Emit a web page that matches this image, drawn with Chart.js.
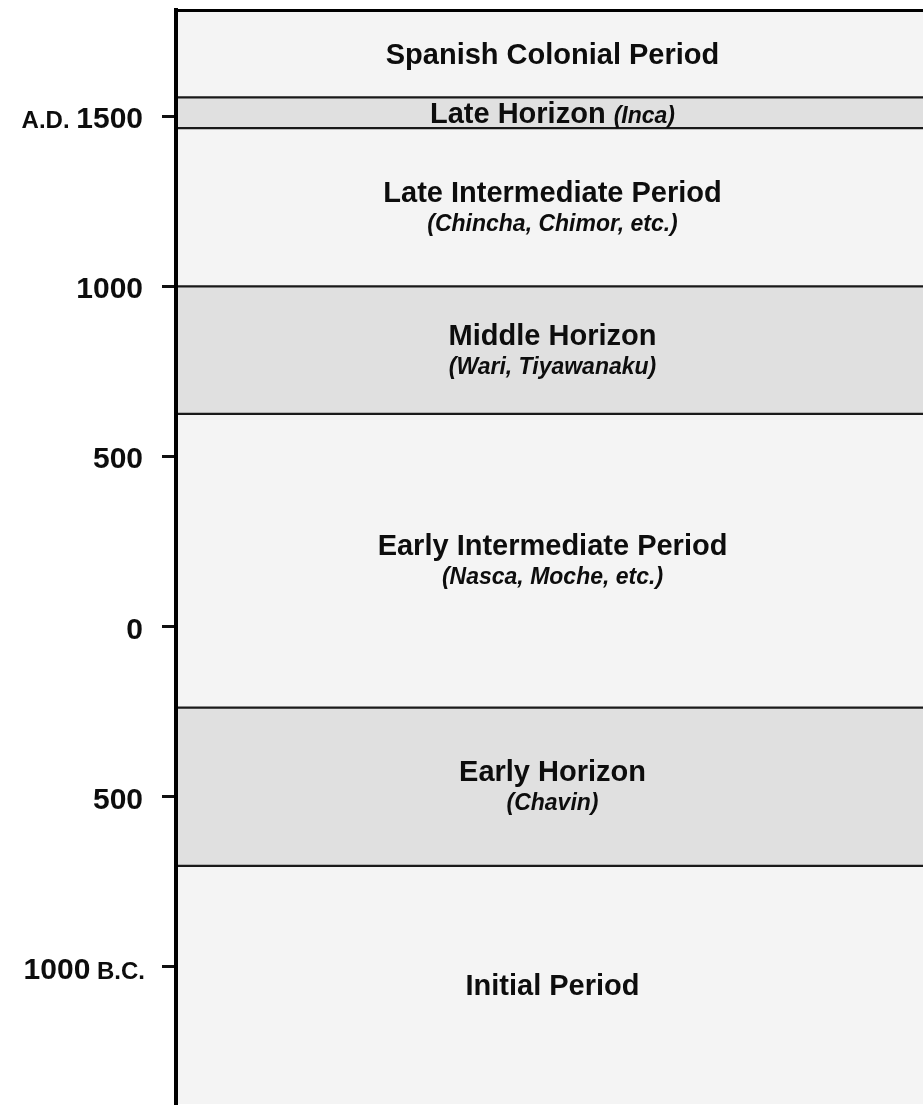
<!DOCTYPE html>
<html>
<head>
<meta charset="utf-8">
<script src="https://cdn.jsdelivr.net/npm/chart.js@4/dist/chart.umd.min.js"></script>
<style>
  html, body { margin: 0; padding: 0; background: #ffffff; overflow: hidden; }
  #wrap { width: 923px; height: 1106px; position: relative; }
</style>
</head>
<body>
<div id="wrap"><canvas id="c" width="923" height="1106"></canvas></div>
<script>
// ---- data ----
const periods = ['Spanish Colonial Period', 'Late Horizon', 'Late Intermediate Period', 'Middle Horizon', 'Early Intermediate Period', 'Early Horizon', 'Initial Period'];
const subtitles = ['', '(Inca)', '(Chincha, Chimor, etc.)', '(Wari, Tiyawanaku)', '(Nasca, Moche, etc.)', '(Chavin)', ''];
const startYears = [1555, 1465, 1000, 625, -238, -703, -1403];
const endYears = [1812, 1555, 1465, 1000, 625, -238, -703];
const shaded = [false, true, false, true, false, true, false];
const yTickValues = [-1000, -500, 0, 500, 1000, 1500];
const yTickNumbers = ['1000', '500', '0', '500', '1000', '1500'];
const yTickPrefixes = ['', '', '', '', '', 'A.D.'];
const yTickSuffixes = ['B.C.', '', '', '', '', ''];
const yMin = -1403, yMax = 1812;

const FONT = '"Liberation Sans", Arial, Helvetica, sans-serif';
const LIGHT = '#f4f4f4', DARK = '#e0e0e0', LINE = '#1a1a1a', TEXT = '#0d0d0d';

const datasets = periods.map((p, i) => ({
  label: p,
  data: [[startYears[i], endYears[i]]],
  backgroundColor: shaded[i] ? DARK : LIGHT,
  borderColor: LINE,
  borderWidth: {
    top: i === 0 ? 0 : 1.5,
    bottom: i === periods.length - 1 ? 0 : 1.5,
    left: 0, right: 0
  },
  borderSkipped: false,
  grouped: false,
  barPercentage: 1,
  categoryPercentage: 1
}));

const bandLabels = {
  id: 'bandLabels',
  afterDatasetsDraw(chart) {
    const ctx = chart.ctx;
    ctx.save();
    ctx.fillStyle = TEXT;
    ctx.textBaseline = 'alphabetic';
    const titleFont = 'bold 29px ' + FONT;
    const subFont = 'italic bold 23px ' + FONT;
    chart.data.datasets.forEach((ds, i) => {
      const el = chart.getDatasetMeta(i).data[0];
      if (!el) return;
      const cx = el.x + 3;
      const cy = (el.y + el.base) / 2;
      const h = Math.abs(el.base - el.y);
      const title = periods[i], sub = subtitles[i];
      if (sub && h < 50) {
        ctx.font = titleFont;
        const wt = ctx.measureText(title + ' ').width;
        ctx.font = subFont;
        const ws = ctx.measureText(sub).width;
        const x0 = cx - (wt + ws) / 2;
        ctx.textAlign = 'left';
        ctx.font = titleFont;
        ctx.fillText(title, x0, cy + 10);
        ctx.font = subFont;
        ctx.fillText(sub, x0 + wt, cy + 10);
      } else if (sub) {
        ctx.textAlign = 'center';
        ctx.font = titleFont;
        ctx.fillText(title, cx, cy - 15.5 + 10);
        ctx.font = subFont;
        ctx.fillText(sub, cx, cy + 15.5 + 8);
      } else {
        ctx.textAlign = 'center';
        ctx.font = titleFont;
        ctx.fillText(title, cx, cy + 10);
      }
    });
    ctx.restore();
  }
};

const yLabels = {
  id: 'yLabels',
  afterDraw(chart) {
    const ctx = chart.ctx;
    const ys = chart.scales.y;
    ctx.save();
    ctx.fillStyle = TEXT;
    ctx.textBaseline = 'alphabetic';
    ctx.textAlign = 'left';
    const numFont = 'bold 30px ' + FONT;
    const smallFont = 'bold 24px ' + FONT;
    yTickValues.forEach((v, i) => {
      const py = ys.getPixelForValue(v);
      const pre = yTickPrefixes[i] ? yTickPrefixes[i] + ' ' : '';
      const suf = yTickSuffixes[i] ? ' ' + yTickSuffixes[i] : '';
      ctx.font = smallFont;
      const wPre = ctx.measureText(pre).width;
      const wSuf = ctx.measureText(suf).width;
      ctx.font = numFont;
      const wNum = ctx.measureText(yTickNumbers[i]).width;
      const right = suf ? 145 : 143;
      let x = right - wPre - wNum - wSuf;
      if (pre) { ctx.font = smallFont; ctx.fillText(pre, x, py + 12); x += wPre; }
      ctx.font = numFont; ctx.fillText(yTickNumbers[i], x, py + 12); x += wNum;
      if (suf) { ctx.font = smallFont; ctx.fillText(suf, x, py + 12); }
    });
    ctx.restore();
  }
};

new Chart(document.getElementById('c'), {
  type: 'bar',
  data: { labels: [''], datasets },
  options: {
    responsive: false,
    animation: false,
    layout: { padding: { top: 0, left: 0, right: 0, bottom: 2 } },
    plugins: { legend: { display: false }, tooltip: { enabled: false }, title: { display: false } },
    scales: {
      x: {
        type: 'category',
        position: 'top',
        offset: true,
        grid: { display: false, drawTicks: false },
        ticks: { display: false },
        border: { display: true, width: 3, color: '#000000', z: 1 },
        afterFit(scale) { scale.height = 10; }
      },
      y: {
        type: 'linear',
        min: yMin,
        max: yMax,
        afterBuildTicks(scale) { scale.ticks = yTickValues.map(v => ({ value: v })); },
        ticks: { display: false },
        grid: { drawOnChartArea: false, drawTicks: true, tickLength: 14, tickWidth: 3, tickColor: '#111111' },
        border: { display: true, width: 4, color: '#000000', z: 1 },
        afterFit(scale) { scale.width = 176; }
      }
    }
  },
  plugins: [bandLabels, yLabels]
});
</script>
</body>
</html>
